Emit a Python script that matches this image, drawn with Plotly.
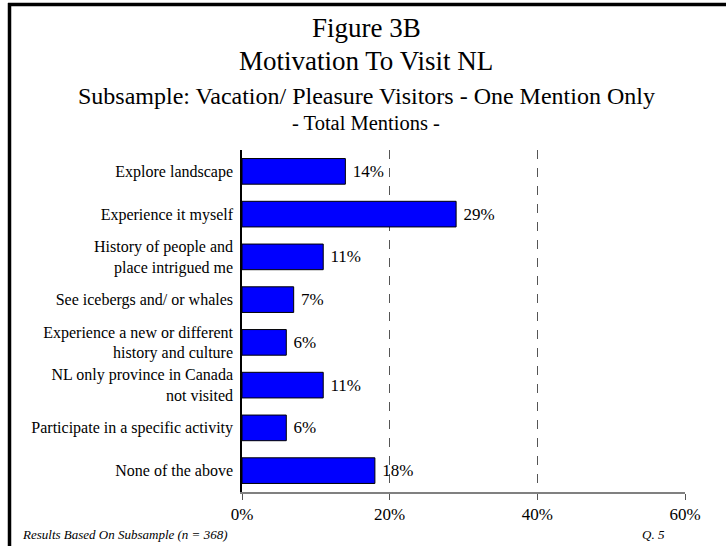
import plotly.graph_objects as go

categories = [
    "Explore landscape",
    "Experience it myself",
    "History of people and<br>place intrigued me",
    "See icebergs and/ or whales",
    "Experience a new or different<br>history and culture",
    "NL only province in Canada<br>not visited",
    "Participate in a specific activity",
    "None of the above",
]
mentions = [14, 29, 11, 7, 6, 11, 6, 18]
tick_vals = [0, 20, 40, 60]
tick_text = ["0%", "20%", "40%", "60%"]

FONT = "Liberation Serif"

# plot area in pixels
L, R, T, B = 242, 41, 150, 54
W, H = 726, 546
pw, ph = W - L - R, H - T - B


def px_x(px):
    return (px - L) / pw


def px_y(py):
    return (H - B - py) / ph


fig = go.Figure(
    go.Bar(
        x=mentions,
        y=categories,
        orientation="h",
        width=0.6,
        marker=dict(color="#0000ff", line=dict(color="#000000", width=1)),
        text=[f" {v}%" for v in mentions],
        textposition="outside",
        textfont=dict(family=FONT, size=17, color="black"),
        cliponaxis=False,
    )
)

fig.update_layout(
    width=W,
    height=H,
    margin=dict(l=L, r=R, t=T, b=B),
    paper_bgcolor="white",
    plot_bgcolor="white",
    showlegend=False,
    bargap=0.4,
    font=dict(family=FONT, color="black"),
)

fig.update_xaxes(
    range=[0, 60],
    tickvals=tick_vals,
    ticktext=tick_text,
    tickfont=dict(family=FONT, size=17, color="black"),
    ticks="outside",
    ticklen=6,
    tickcolor="#555555",
    showgrid=True,
    gridcolor="#555555",
    griddash="dash",
    gridwidth=1,
    zeroline=False,
    showline=True,
    linecolor="#808080",
    linewidth=1.5,
)

fig.update_yaxes(
    categoryorder="array",
    categoryarray=categories[::-1],
    tickfont=dict(family=FONT, size=16, color="black"),
    ticks="",
    ticklabelstandoff=4,
    showline=True,
    linecolor="black",
    linewidth=1.5,
    showgrid=False,
)

titles = [
    ("Figure 3B", 27, 45),
    ("Motivation To Visit NL", 27, 78),
    ("Subsample: Vacation/ Pleasure Visitors - One Mention Only", 24, 111),
    ("- Total Mentions -", 20.5, 136),
]
for txt, size, base in titles:
    fig.add_annotation(
        text=txt, x=px_x(366), y=px_y(base), xref="paper", yref="paper",
        xanchor="center", yanchor="bottom", showarrow=False,
        font=dict(family=FONT, size=size, color="black"),
    )

fig.add_annotation(
    text="<i>Results Based On Subsample (n = 368)</i>", x=px_x(20), y=px_y(534),
    xref="paper", yref="paper", xanchor="left", yanchor="middle",
    showarrow=False, font=dict(family=FONT, size=13, color="black"),
)
fig.add_annotation(
    text="<i>Q. 5</i>", x=px_x(667), y=px_y(534),
    xref="paper", yref="paper", xanchor="right", yanchor="middle",
    showarrow=False, font=dict(family=FONT, size=13, color="black"),
)

# frame lines on top and left edge
fig.add_shape(type="line", xref="paper", yref="paper",
              x0=px_x(8), x1=px_x(726), y0=px_y(4.5), y1=px_y(4.5),
              line=dict(color="black", width=3.5))
fig.add_shape(type="line", xref="paper", yref="paper",
              x0=px_x(9.5), x1=px_x(9.5), y0=px_y(3), y1=px_y(546),
              line=dict(color="black", width=3.5))

# drop the default page margin so the figure sits at the window's corner
fig.write_html(
    "out.html",
    config={"displayModeBar": False},
    post_script="document.body.style.margin='0';document.body.style.overflow='hidden';",
)
